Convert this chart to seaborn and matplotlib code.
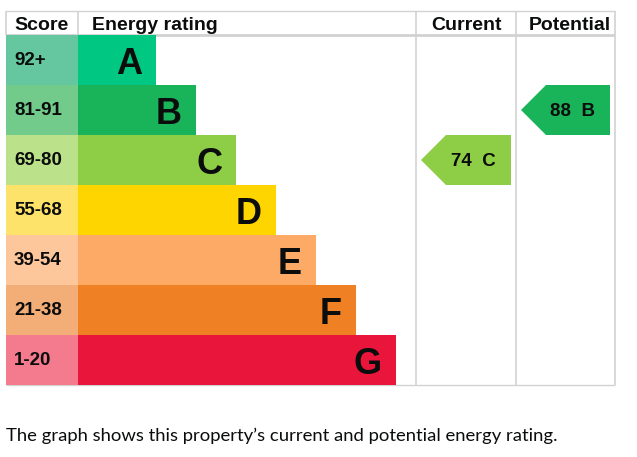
import matplotlib
matplotlib.use("Agg")
import matplotlib.pyplot as plt
import pandas as pd
import seaborn as sns

# EPC bands
bands = ["A", "B", "C", "D", "E", "F", "G"]
score_ranges = ["92+", "81-91", "69-80", "55-68", "39-54", "21-38", "1-20"]
band_lower = [92, 81, 69, 55, 39, 21, 1]
bar_colors = ["#00c781", "#19b459", "#8dce46", "#ffd500", "#fcaa65", "#ef8023", "#e9153b"]
score_colors = ["#64c7a0", "#72ca8b", "#bbe18a", "#fee36b", "#fdc69b", "#f3ad77", "#f47a8d"]
headers = ["Score", "Energy rating", "Current", "Potential"]
current_score = 74
potential_score = 88
caption = "The graph shows this property\u2019s current and potential energy rating."

# layout in pixels
W, H = 637, 457
left, right, top, head_bot, bottom = 6, 615, 11, 35, 385
score_w = 72
bar_base, bar_step = 78, 40
col_cur, col_pot = 416, 516
grid = "#d2d2d2"
txt = "#0b0c0c"

sns.set_style("white")
plt.rcParams["font.family"] = ["Liberation Sans", "DejaVu Sans"]

fig = plt.figure(figsize=(W / 100, H / 100), dpi=100)

# background axes in pixel coords: header, grid lines, caption
bg = fig.add_axes([0, 0, 1, 1])
bg.set_xlim(0, W)
bg.set_ylim(H, 0)
bg.axis("off")

bg.hlines(top, left, right, color=grid, lw=1)
bg.hlines(head_bot, left, right, color=grid, lw=2)
bg.hlines(bottom, left, right, color=grid, lw=1)
bg.vlines([left, left + score_w], top, head_bot, color=grid, lw=1.2)
bg.vlines([col_cur, col_pot, right], top, bottom, color=grid, lw=1.2)

hy = 29.5
bg.text(14, hy, headers[0], fontsize=14, weight="bold", color=txt, va="baseline")
bg.text(92, hy, headers[1], fontsize=14, weight="bold", color=txt, va="baseline")
bg.text((col_cur + col_pot) / 2, hy, headers[2], fontsize=14, weight="bold",
        color=txt, va="baseline", ha="center")
bg.text((col_pot + right) / 2 + 4, hy, headers[3], fontsize=14, weight="bold",
        color=txt, va="baseline", ha="center")

bg.text(left, 441, caption, fontsize=13.3, color=txt, va="baseline",
        family=["Lato", "DejaVu Sans"])

# body axes: one row per band
ax = fig.add_axes([left / W, (H - bottom) / H, (right - left) / W, (bottom - head_bot) / H])
ax.patch.set_alpha(0)

df = pd.DataFrame({"band": bands, "score": score_ranges})
df["length"] = [score_w + bar_base + bar_step * i for i in range(len(bands))]
df["cell"] = score_w

sns.barplot(data=df, x="length", y="band", hue="band", palette=bar_colors,
            orient="h", width=1, saturation=1, legend=False, linewidth=0, ax=ax)
sns.barplot(data=df, x="cell", y="band", hue="band", palette=score_colors,
            orient="h", width=1, saturation=1, legend=False, linewidth=0, ax=ax)

for i, row in df.iterrows():
    ax.text(row["length"] - 14, i + 0.27, row["band"], ha="right", va="baseline",
            fontsize=26, weight="bold", color=txt)
    ax.text(8, i + 0.1, row["score"], ha="left", va="baseline",
            fontsize=13.5, weight="bold", color=txt)


def band_of(score):
    for i, lo in enumerate(band_lower):
        if score >= lo:
            return i
    return len(bands) - 1


def rating_arrow(score, x0, x1):
    i = band_of(score)
    x0, x1 = x0 - left, x1 - left
    tip, flat, end = x0 + 5, x0 + 30, x1 - 5
    ax.fill([tip, flat, end, end, flat], [i, i - 0.5, i - 0.5, i + 0.5, i + 0.5],
            color=bar_colors[i], lw=0)
    ax.text(x0 + 57, i + 0.13, f"{score}  {bands[i]}", ha="center", va="baseline",
            fontsize=13.5, weight="bold", color=txt)


rating_arrow(current_score, col_cur, col_pot)
rating_arrow(potential_score, col_pot, right)

ax.set_xlim(0, right - left)
ax.set_ylim(len(bands) - 0.5, -0.5)
ax.axis("off")

fig.savefig("out.png", dpi=100)
